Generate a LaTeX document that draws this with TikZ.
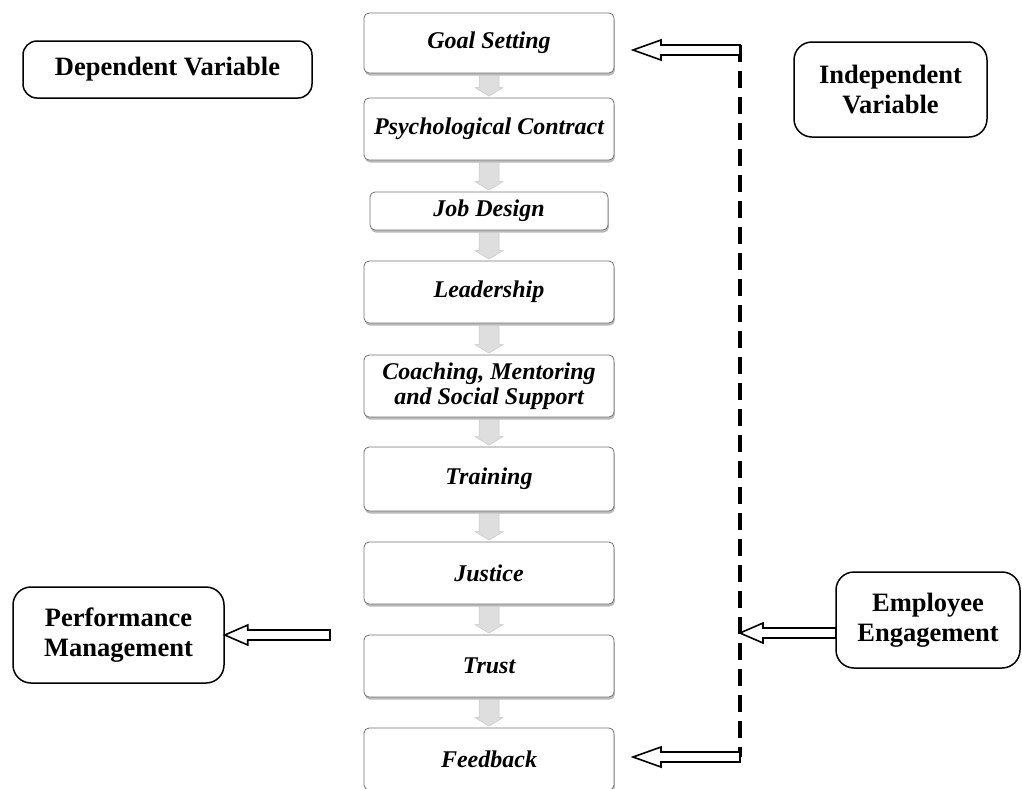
\documentclass[tikz,border=0pt]{standalone}
\usepackage{fontspec}
\setmainfont{Liberation Serif}
\usetikzlibrary{calc,shadows}
\tikzset{
  cbox/.style={draw=black!55, line width=0.8pt, rounded corners=5pt, fill=white,
    minimum width=250pt, minimum height=62pt, inner sep=0pt, align=center,
    font=\fontsize{24}{25}\selectfont\bfseries\itshape,
    drop shadow={shadow xshift=0.8pt, shadow yshift=-2.5pt, fill=black!50, opacity=.55}},
  sbox/.style={draw=black, line width=1.5pt, rounded corners=14pt, fill=white,
    inner sep=0pt, align=center, font=\fontsize{26.5}{30}\selectfont\bfseries},
  grayarr/.style={fill=black!13, draw=black!22, line width=0.5pt},
  harrow/.style={draw=black, line width=1.6pt, fill=white, line join=miter},
  dline/.style={draw=black, line width=3.5pt, dash pattern=on 17pt off 9pt}
}
\newcommand{\grayconn}[2]{%
  \filldraw[grayarr] ($(#1.south)+(-10,2)$) -- ($(#2.north)+(-10,-10)$) -- ($(#2.north)+(-14,-10)$)
    -- ($(#2.north)+(0,-1.5)$) -- ($(#2.north)+(14,-10)$) -- ($(#2.north)+(10,-10)$)
    -- ($(#1.south)+(10,2)$) -- cycle;}
\newcommand{\hollowconn}[3]{% tail, tip, head length
  \draw[harrow] ($(#1)+(0,-5)$) -- ($(#2)+(#3,-5)$) -- ($(#2)+(#3,-10)$) -- (#2)
    -- ($(#2)+(#3,10)$) -- ($(#2)+(#3,5)$) -- ($(#1)+(0,5)$) -- cycle;}
\begin{document}
\begin{tikzpicture}[x=1pt,y=-1pt]
\useasboundingbox (0,0) rectangle (1022,788);
% central chain
\node[cbox, minimum height=60pt] (goal) at (489,43) {Goal Setting};
\node[cbox] (psych) at (489,129) {Psychological Contract};
\node[cbox, minimum width=238pt, minimum height=38pt] (job) at (489,211) {Job Design};
\node[cbox] (lead) at (489,292) {Leadership};
\node[cbox] (coach) at (489,386) {Coaching, Mentoring\\and Social Support};
\node[cbox, minimum height=64pt] (train) at (489,479) {Training};
\node[cbox] (just) at (489,573) {Justice};
\node[cbox] (trust) at (489,666) {Trust};
\node[cbox] (feed) at (489,759) {Feedback};
\grayconn{goal}{psych}
\grayconn{psych}{job}
\grayconn{job}{lead}
\grayconn{lead}{coach}
\grayconn{coach}{train}
\grayconn{train}{just}
\grayconn{just}{trust}
\grayconn{trust}{feed}
% side boxes
\node[sbox, minimum width=289pt, minimum height=57pt] (dep) at (167.5,69.5) {Dependent Variable};
\node[sbox, minimum width=193pt, minimum height=95pt, rounded corners=18pt] (indep) at (890.5,89.5) {Independent\\Variable};
\node[sbox, minimum width=211pt, minimum height=96pt, rounded corners=18pt] (perf) at (118.5,635) {Performance\\Management};
\node[sbox, minimum width=184pt, minimum height=96pt, rounded corners=18pt] (emp) at (928,620) {Employee\\Engagement};
% dashed line and hollow arrows
\coordinate (dtop) at (740,50);
\coordinate (dbot) at (740,757);
\coordinate (dmid) at (740,633);
\coordinate (gtip) at (633,50);
\coordinate (ftip) at (633,757);
\coordinate (etail) at (836,633);
\coordinate (ptail) at (330,635);
\draw[dline] ($(dtop)+(0,-5)$) -- (dbot);
\hollowconn{dtop}{gtip}{28}
\hollowconn{dbot}{ftip}{28}
\hollowconn{etail}{dmid}{23}
\hollowconn{ptail}{perf.east}{23}
\end{tikzpicture}
\end{document}
